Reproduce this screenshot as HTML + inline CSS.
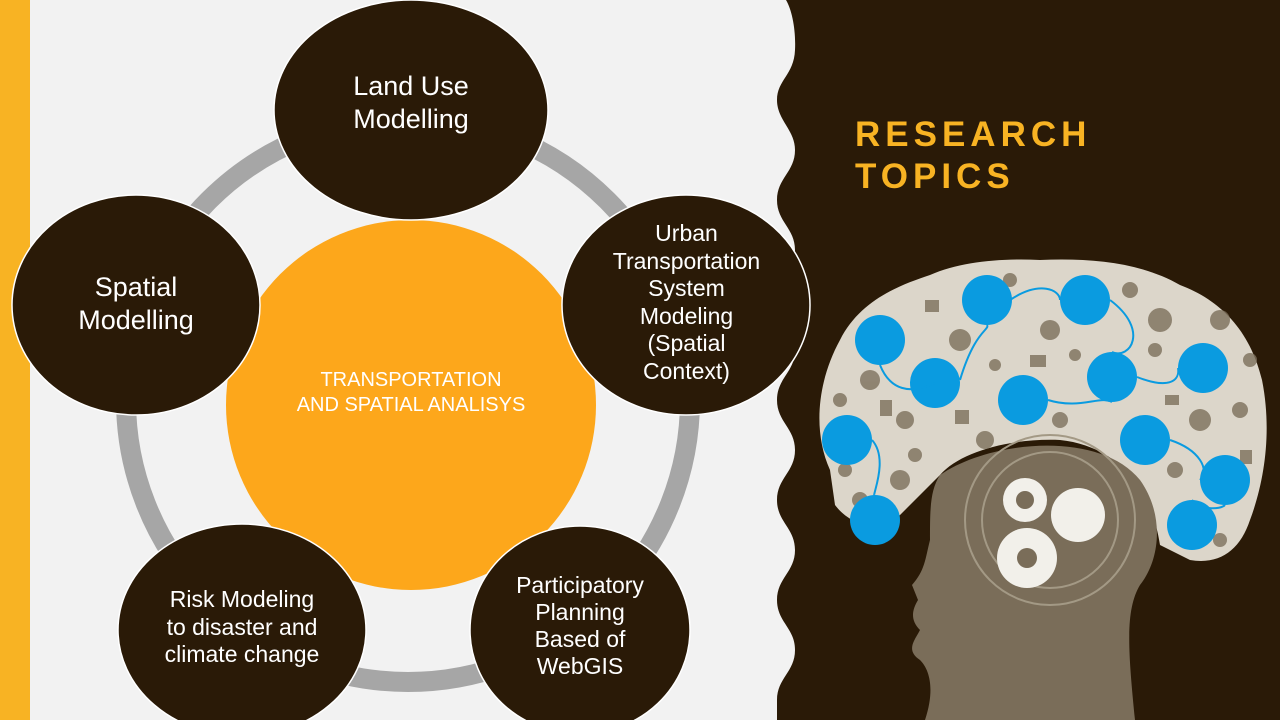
<!DOCTYPE html>
<html><head><meta charset="utf-8"><style>
html,body{margin:0;padding:0;}
body{width:1280px;height:720px;overflow:hidden;background:#f2f2f2;position:relative;font-family:"Liberation Sans",sans-serif;}
svg{position:absolute;left:0;top:0;}
.t{position:absolute;color:#fff;text-align:center;line-height:1.24;}
</style></head><body>
<svg width="1280" height="720" viewBox="0 0 1280 720">
<rect x="0" y="0" width="30" height="720" fill="#f8b323"/>
<path fill="#2a1a07" d="M786,0 C792,10 796,30 795,50 C794,75 777,80 777,100 C777,120 795,130 795,150 C795,172 777,178 777,200 C777,222 795,228 795,250 C795,272 777,278 777,300 C777,322 795,328 795,350 C795,372 777,378 777,400 C777,422 795,428 795,450 C795,472 777,478 777,500 C777,522 795,528 795,550 C795,572 777,578 777,600 C777,622 795,628 795,650 C795,672 777,678 777,700 L777,720 L1280,720 L1280,0 Z"/>
<circle cx="408" cy="400" r="282" fill="none" stroke="#a6a6a6" stroke-width="20"/>
<circle cx="411" cy="405" r="185" fill="#fda71b"/>
<g fill="#2a1a07" stroke="#fff" stroke-width="1.5">
<ellipse cx="411" cy="110" rx="137" ry="110"/>
<ellipse cx="136" cy="305" rx="124" ry="110"/>
<ellipse cx="686" cy="305" rx="124" ry="110"/>
<ellipse cx="242" cy="630" rx="124" ry="106"/>
<ellipse cx="580" cy="630" rx="110" ry="104"/>
</g>
<path fill="#dcd6ca" d="M830,470 C812,430 818,380 840,340 C860,300 900,285 930,275 C960,262 1000,258 1040,260 C1090,258 1140,262 1180,285 C1220,300 1250,330 1262,380 C1272,430 1265,480 1250,520 C1240,550 1220,565 1190,560 L1160,545 C1150,480 1110,445 1060,440 C1010,438 960,452 940,475 L900,515 C880,535 850,525 835,505 Z"/>
<g fill="#7d705c" opacity="0.8">
<circle cx="870" cy="380" r="10"/><circle cx="905" cy="420" r="9"/><circle cx="960" cy="340" r="11"/>
<circle cx="1050" cy="330" r="10"/><circle cx="1160" cy="320" r="12"/><circle cx="1200" cy="420" r="11"/>
<circle cx="1060" cy="420" r="8"/><circle cx="985" cy="440" r="9"/><circle cx="1240" cy="410" r="8"/>
<circle cx="900" cy="480" r="10"/><circle cx="1220" cy="320" r="10"/><circle cx="1010" cy="280" r="7"/>
<circle cx="1130" cy="290" r="8"/><circle cx="845" cy="470" r="7"/><circle cx="1175" cy="470" r="8"/>
<rect x="1030" y="355" width="16" height="12"/><rect x="955" y="410" width="14" height="14"/><rect x="1165" y="395" width="14" height="10"/>
<rect x="880" y="400" width="12" height="16"/><rect x="1240" y="450" width="12" height="14"/><rect x="925" y="300" width="14" height="12"/>
<circle cx="1155" cy="350" r="7"/><circle cx="995" cy="365" r="6"/><circle cx="1075" cy="355" r="6"/><circle cx="1250" cy="360" r="7"/>
<circle cx="860" cy="500" r="8"/><circle cx="915" cy="455" r="7"/><circle cx="1220" cy="540" r="7"/><circle cx="840" cy="400" r="7"/>
</g>
<path fill="#7a6d59" d="M940,475 C990,440 1100,430 1140,480 C1165,515 1160,560 1140,585 C1125,610 1128,650 1135,720 L925,720 C935,690 930,670 920,660 C905,650 915,640 920,630 C910,620 912,610 918,600 L912,585 C925,570 925,560 930,540 C930,510 930,490 940,475 Z"/>
<g fill="none" stroke="#a39985" stroke-width="2">
<circle cx="1050" cy="520" r="85"/><circle cx="1050" cy="520" r="68"/>
</g>
<g fill="#f2f0ea">
<circle cx="1025" cy="500" r="22"/><circle cx="1078" cy="515" r="27"/><circle cx="1027" cy="558" r="30"/>
</g>
<g fill="#7a6d59"><circle cx="1025" cy="500" r="9"/><circle cx="1027" cy="558" r="10"/></g>
<g fill="#0a9be0">
<circle cx="880" cy="340" r="25"/><circle cx="987" cy="300" r="25"/><circle cx="1085" cy="300" r="25"/>
<circle cx="935" cy="383" r="25"/><circle cx="1023" cy="400" r="25"/><circle cx="1112" cy="377" r="25"/>
<circle cx="1203" cy="368" r="25"/><circle cx="847" cy="440" r="25"/><circle cx="1145" cy="440" r="25"/>
<circle cx="1225" cy="480" r="25"/><circle cx="875" cy="520" r="25"/><circle cx="1192" cy="525" r="25"/>
</g>
<g fill="none" stroke="#0a9be0" stroke-width="2">
<path d="M880,365 C890,390 910,395 935,383 M960,380 C975,330 990,330 987,325 M1010,300 C1040,280 1060,290 1060,300 M1110,300 C1150,330 1130,360 1112,352 M1137,377 C1170,390 1180,380 1178,368 M1048,400 C1080,410 1100,395 1112,402 M872,440 C890,460 870,500 875,495 M1170,440 C1200,450 1210,470 1200,480 M1225,505 C1220,510 1200,510 1192,500"/>
</g>
</svg>
<div class="t" style="left:274px;top:70px;width:274px;font-size:27px;">Land Use<br>Modelling</div>
<div class="t" style="left:12px;top:271px;width:248px;font-size:27px;">Spatial<br>Modelling</div>
<div class="t" style="left:562px;top:220px;width:249px;font-size:23px;line-height:1.2;">Urban<br>Transportation<br>System<br>Modeling<br>(Spatial<br>Context)</div>
<div class="t" style="left:226px;top:368px;width:370px;font-size:20px;line-height:1.25;">TRANSPORTATION<br>AND SPATIAL ANALISYS</div>
<div class="t" style="left:118px;top:586px;width:248px;font-size:23px;line-height:1.2;">Risk Modeling<br>to disaster and<br>climate change</div>
<div class="t" style="left:470px;top:572px;width:220px;font-size:23px;line-height:1.17;">Participatory<br>Planning<br>Based of<br>WebGIS</div>
<div style="position:absolute;left:855px;top:114px;color:#f8b323;font-weight:bold;font-size:35px;letter-spacing:5px;line-height:1.2;">RESEARCH<br>TOPICS</div>
</body></html>
